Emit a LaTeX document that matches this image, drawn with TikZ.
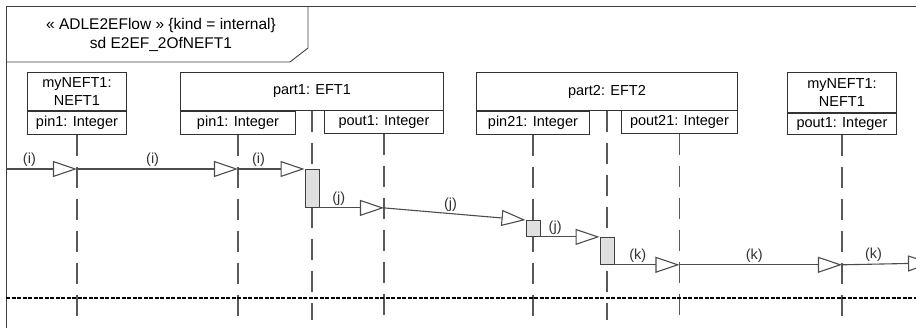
\documentclass[tikz,border=0pt]{standalone}
\usepackage{fontspec}
\setmainfont{Liberation Sans}
\usetikzlibrary{arrows.meta}
\tikzset{
  headbox/.style={draw=black!80,line width=0.9pt,anchor=north west,inner sep=1pt,
    align=center,font=\fontsize{14.5}{18}\selectfont},
  portbox/.style={headbox,minimum height=23},
  lifeline/.style={draw=black!65,line width=1.2pt,dash pattern=on 21pt off 11pt},
  msg/.style={-{Triangle[open,length=24pt,width=16pt]},draw=black!70,line width=1.1pt},
  activation/.style={draw=black!75,line width=0.9pt,fill=black!12,
    minimum width=14,inner sep=0pt,anchor=north}
}

\begin{document}
\begin{tikzpicture}[
  x=1pt,y=-1pt,
  frameline/.style={draw=black!75,line width=0.9pt},
  msglabel/.style={font=\fontsize{14.5}{16}\selectfont,above,inner sep=2pt,text=black!80},
  separator/.style={draw=black,line width=1.6pt,dash pattern=on 4pt off 1.5pt}
]
  \useasboundingbox (0,0) rectangle (916,328);
  \clip (0,0) rectangle (916,328);
  % frame and its name tag
  \draw[frameline] (6,340) -- (6,6) -- (940,6);
  \draw[frameline] (6,62) -- (290,62) -- (308,48) -- (308,6);
  \node[font=\fontsize{15.5}{19}\selectfont,align=center] (sdname) at (161,35)
    {« ADLE2EFlow » \{kind = internal\}\\sd E2EF\_2OfNEFT1};
  % lifeline heads
  \node[headbox,minimum width=99,minimum height=38] (neftA) at (27,72) {myNEFT1:\\NEFT1};
  \node[portbox,minimum width=99] (neftApin) at (neftA.south west) {pin1: Integer};
  \node[headbox,minimum width=263,minimum height=38] (part1) at (180,72) {part1: EFT1};
  \node[portbox,minimum width=115] (p1in) at (part1.south west) {pin1: Integer};
  \node[portbox,minimum width=119] (p1out) at (324,110) {pout1: Integer};
  \node[headbox,minimum width=261,minimum height=38] (part2) at (476,72) {part2: EFT2};
  \node[portbox,minimum width=113] (p2in) at (part2.south west) {pin21: Integer};
  \node[portbox,minimum width=116] (p2out) at (621,110) {pout21: Integer};
  \node[headbox,minimum width=109,minimum height=40] (neftB) at (787,72) {myNEFT1:\\NEFT1};
  \node[portbox,minimum width=109,minimum height=21] (neftBpin) at (neftB.south west) {pout1: Integer};
  % lifelines
  \coordinate (lifeend) at (0,320);
  \foreach \headname in {neftApin,part1,p1in,p1out,part2,p2in,p2out,neftBpin}
    \draw[lifeline] (\headname.south) -- (\headname.south |- lifeend);
  \draw[separator] (6,298) -- (940,298);
  % message levels
  \coordinate (gate) at (6,169);
  \coordinate (exitgate) at (932,263);
  \node[activation,minimum height=38] (act1) at (part1.south |- gate) {};
  \node[activation,minimum height=16] (act2) at (p2in.south |- 0,220) {};
  \node[activation,minimum height=27] (act3) at (part2.south |- act2.south) {};
  % messages
  \draw[msg] (gate) -- node[msglabel,pos=0.33] {(i)} (neftApin.south |- gate);
  \draw[msg] (neftApin.south |- gate) -- node[msglabel,pos=0.47] {(i)} (p1in.south |- gate);
  \draw[msg] (p1in.south |- gate) -- node[msglabel,pos=0.31] {(i)} (act1.north west);
  \draw[msg] (act1.south east) -- node[msglabel,pos=0.3] {(j)} (p1out.south |- act1.south);
  \draw[msg] (p1out.south |- act1.south) -- node[msglabel,pos=0.47] {(j)} (act2.north west);
  \draw[msg] (act2.south east) -- node[msglabel,pos=0.25] {(j)} (act3.north west);
  \draw[msg] (act3.south east) -- node[msglabel,pos=0.36] {(k)} (p2out.south |- act3.south);
  \draw[msg] (p2out.south |- act3.south) -- node[msglabel,pos=0.46] {(k)} (neftBpin.south |- act3.south);
  \draw[msg] (neftBpin.south |- act3.south) -- node[msglabel,pos=0.35] {(k)} (exitgate);
\end{tikzpicture}
\end{document}
